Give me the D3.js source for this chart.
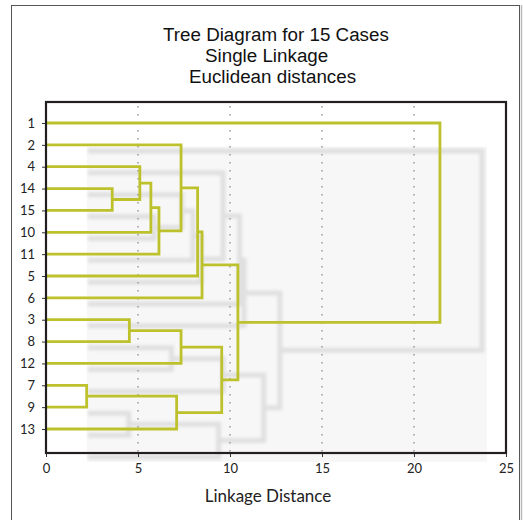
<!DOCTYPE html>
<html>
<head>
<meta charset="utf-8">
<script src="https://cdn.jsdelivr.net/npm/d3@7"></script>
<style>
body { margin: 0; background: #fff; }
svg { display: block; }
</style>
</head>
<body>
<svg id="chart" width="523" height="520"></svg>
<script>
// leaf order, top to bottom
var leaves = ['1','2','4','14','15','10','11','5','6','3','8','12','7','9','13'];
// merges: left child, right child, linkage distance (children are leaf names or c<index>)
var mergeLeft   = ['14','4', 'c1','c2','2', 'c4','c5','7', '3', 'c8','c7','c9', 'c6', '1'];
var mergeRight  = ['15','c0','10','11','c3','5', '6', '9', '8', '12','13','c10','c11','c12'];
var mergeHeight = [3.6, 5.1, 5.7, 6.14, 7.34, 8.24, 8.48, 2.21, 4.53, 7.34, 7.1, 9.55, 10.43, 21.41];
var xTicks = [0, 5, 10, 15, 20, 25];
var gridTicks = [5, 10, 15, 20];
var titleLines = ['Tree Diagram for 15 Cases', 'Single Linkage', 'Euclidean distances'];

var svg = d3.select('#chart');
var pLeft = 46, pRight = 506, pTop = 102, pBottom = 453;
var green = '#bdc12c';

var x = d3.scaleLinear().domain([0, 25]).range([pLeft, pRight]);
var y = d3.scaleLinear().domain([-0.961, 15.098]).range([pTop, pBottom]);

// node positions
var nodes = {};
leaves.forEach(function(l, i) { nodes[l] = {h: 0, pos: i}; });
var links = [];
mergeHeight.forEach(function(h, i) {
	var a = nodes[mergeLeft[i]], b = nodes[mergeRight[i]];
	nodes['c' + i] = {h: h, pos: (a.pos + b.pos) / 2};
	links.push({a: a, b: b, h: h});
});

function linkPath(d) {
	return 'M' + x(d.a.h) + ',' + y(d.a.pos) + 'H' + x(d.h) + 'V' + y(d.b.pos) + 'H' + x(d.b.h);
}

// outer frame
svg.append('rect').attr('x', 11.5).attr('y', 5.5).attr('width', 508).attr('height', 530)
	.attr('fill', 'none').attr('stroke', '#555').attr('stroke-width', 1);
svg.append('line').attr('x1', 521.5).attr('x2', 521.5).attr('y1', 5).attr('y2', 520)
	.attr('stroke', '#bbb').attr('stroke-width', 1.5);

// title
svg.selectAll('.title').data(titleLines).enter().append('text')
	.attr('x', (d, i) => [163, 205, 189][i])
	.attr('y', (d, i) => 41 + i * 21)
	.attr('font-family', 'Liberation Sans, Arial, sans-serif')
	.attr('font-size', 18.8)
	.attr('fill', '#111')
	.text(d => d);

// shadow copy of the tree
var defs = svg.append('defs');
defs.append('filter').attr('id', 'blur').append('feGaussianBlur').attr('stdDeviation', 1.4);
var shadow = svg.append('g');
shadow.append('rect').attr('x', 87).attr('y', 147).attr('width', 400).attr('height', 315)
	.attr('fill', '#f7f7f7');
shadow.append('g').attr('transform', 'translate(42,28)').attr('filter', 'url(#blur)')
	.selectAll('path').data(links).enter().append('path')
	.attr('d', linkPath)
	.attr('fill', 'none')
	.attr('stroke', '#e0e0e0')
	.attr('stroke-width', 5);

// dotted grid
svg.selectAll('.grid').data(gridTicks).enter().append('line')
	.attr('x1', d => x(d)).attr('x2', d => x(d))
	.attr('y1', pTop + 4).attr('y2', pBottom)
	.attr('stroke', '#9a9a9a').attr('stroke-width', 1.5)
	.attr('stroke-dasharray', '1.5,6.5');

// tree
svg.append('g').selectAll('path').data(links).enter().append('path')
	.attr('d', linkPath)
	.attr('fill', 'none')
	.attr('stroke', green)
	.attr('stroke-width', 2.8);

// axes
var yAxis = svg.append('g').attr('transform', 'translate(' + pLeft + ',0)')
	.call(d3.axisLeft(y).tickValues(d3.range(leaves.length)).tickFormat(i => leaves[i]).tickSize(4).tickPadding(7));
var xAxis = svg.append('g').attr('transform', 'translate(0,' + pBottom + ')')
	.call(d3.axisBottom(x).tickValues(xTicks).tickSize(4).tickPadding(7));
[yAxis, xAxis].forEach(function(g) {
	g.select('.domain').remove();
	g.selectAll('line').attr('stroke', '#333');
	g.selectAll('text').attr('font-family', 'Lato, Open Sans, sans-serif').attr('font-size', 13).attr('fill', '#222');
});

// plot frame
svg.append('rect').attr('x', pLeft).attr('y', pTop).attr('width', pRight - pLeft).attr('height', pBottom - pTop)
	.attr('fill', 'none').attr('stroke', '#231f20').attr('stroke-width', 2.2);

svg.append('text').attr('x', 268).attr('y', 502).attr('text-anchor', 'middle')
	.attr('font-family', 'Lato, Open Sans, sans-serif').attr('font-size', 17).attr('fill', '#222')
	.text('Linkage Distance');
</script>
</body>
</html>
